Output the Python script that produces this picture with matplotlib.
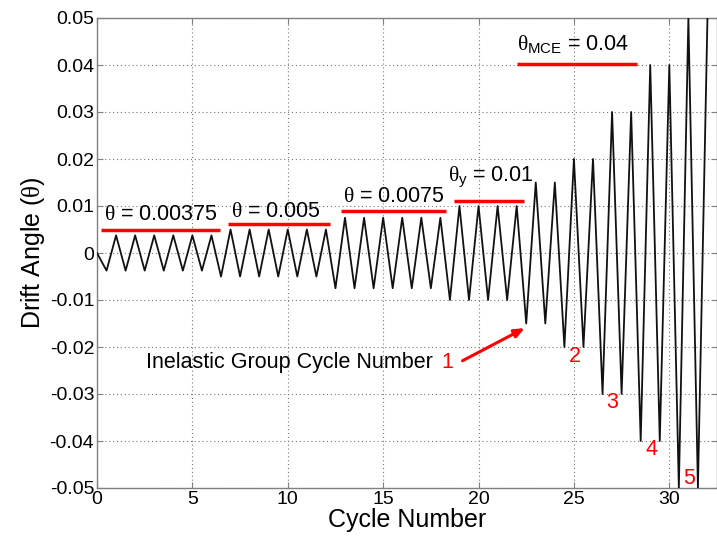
import matplotlib
matplotlib.use("Agg")
import matplotlib.pyplot as plt
import numpy as np

plt.rcParams['font.family'] = ['Liberation Sans', 'DejaVu Sans']
plt.rcParams['mathtext.fontset'] = 'custom'
plt.rcParams['mathtext.rm'] = 'Liberation Sans'
plt.rcParams['mathtext.it'] = 'Liberation Serif'
plt.rcParams['mathtext.bf'] = 'Liberation Sans:bold'

# Loading protocol: amplitude of each group and number of cycles in it
group_amplitudes = [0.00375, 0.005, 0.0075, 0.01, 0.015, 0.02, 0.03, 0.04, 0.05]
group_cycles = [6, 6, 6, 4, 2, 2, 2, 2, 2]

# Group labels: (text, x_text, y_text, x_line_start, x_line_end, y_line)
label_texts = [r'$\theta$ = 0.00375', r'$\theta$ = 0.005', r'$\theta$ = 0.0075',
               r'$\theta_\mathrm{y}$ = 0.01', r'$\theta_\mathrm{MCE}$ = 0.04']
label_x = [0.35, 7.0, 12.9, 18.4, 22.0]
label_y = [0.0082, 0.0088, 0.0120, 0.0162, 0.0445]
line_x0 = [0.2, 6.85, 12.8, 18.7, 22.0]
line_x1 = [6.45, 12.2, 18.3, 22.4, 28.3]
line_y = [0.0049, 0.0061, 0.0089, 0.0110, 0.0402]

# Inelastic group cycle numbers
inel_labels = ['1', '2', '3', '4', '5']
inel_x = [18.38, 25.07, 27.0, 29.05, 31.05]
inel_y = [-0.0234, -0.0221, -0.0319, -0.0419, -0.0479]

# Build the drift history: start at 0, trough at half cycles, peak at whole cycles
xs = [0.0]
ys = [0.0]
c = 0
for amp, n in zip(group_amplitudes, group_cycles):
    for k in range(n):
        xs.append(c + 0.5)
        ys.append(-amp)
        xs.append(c + 1.0)
        ys.append(amp)
        c += 1

fig = plt.figure(figsize=(7.17, 5.41), dpi=100)
ax = fig.add_axes([97 / 717, 53 / 541, 620 / 717, 470 / 541])

ax.plot(xs, ys, color='#111111', lw=1.3, zorder=3)

ax.set_xlim(0, 32.5)
ax.set_ylim(-0.05, 0.05)
ax.set_xticks(np.arange(0, 31, 5))
ax.set_yticks(np.round(np.arange(-0.05, 0.0501, 0.01), 2))
ax.set_yticklabels(['-0.05', '-0.04', '-0.03', '-0.02', '-0.01', '0',
                    '0.01', '0.02', '0.03', '0.04', '0.05'])
ax.grid(True, color='#777777', linestyle=(0, (1, 2.5)), linewidth=0.8)
ax.tick_params(direction='in', length=4, top=True, right=True,
               labelsize=14, color='#808080', pad=2)
for s in ax.spines.values():
    s.set_color('#808080')
    s.set_linewidth(1.0)

ax.set_xlabel('Cycle Number', fontsize=18, labelpad=0)
ax.set_ylabel(r'Drift Angle ($\theta$)', fontsize=18, labelpad=2)

for t, tx, ty, x0, x1, ly in zip(label_texts, label_x, label_y, line_x0, line_x1, line_y):
    ax.text(tx, ty, t, fontsize=15.5, ha='left', va='center', zorder=4)
    ax.plot([x0, x1], [ly, ly], color='red', lw=2.5, zorder=4, solid_capstyle='butt')

ax.text(17.6, inel_y[0], 'Inelastic Group Cycle Number', fontsize=15.5,
        ha='right', va='center', zorder=4)
for t, tx, ty in zip(inel_labels, inel_x, inel_y):
    ax.text(tx, ty, t, fontsize=15.5, color='red', ha='center', va='center', zorder=4)

ax.annotate('', xy=(22.55, -0.0157), xytext=(19.03, -0.0232),
            arrowprops=dict(arrowstyle='-|>,head_length=0.6,head_width=0.25',
                            color='red', lw=2.2), zorder=5)

fig.savefig('out.png', dpi=100)
